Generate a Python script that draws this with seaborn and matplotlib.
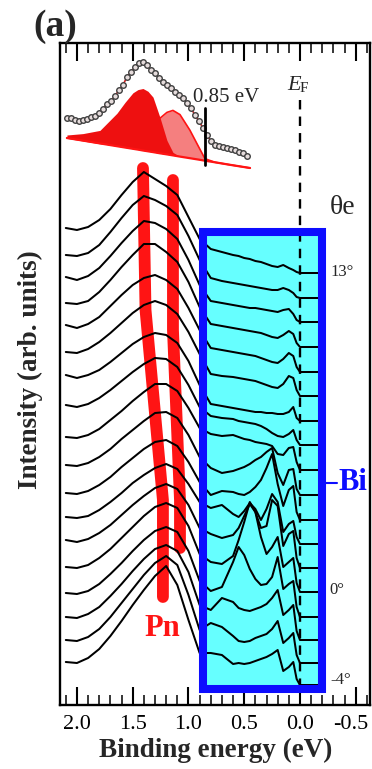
import numpy as np
import matplotlib
matplotlib.use("Agg")
import matplotlib.pyplot as plt
import matplotlib.transforms as mtransforms
from matplotlib.patches import Rectangle
from matplotlib.ticker import MultipleLocator
import seaborn as sns

sns.set_theme(style="ticks")
plt.rcParams['font.family'] = ['Liberation Serif', 'DejaVu Serif']
plt.rcParams['mathtext.fontset'] = 'stix'

# ---------------- data ----------------
energy_left = [2.1, 2.0, 1.9, 1.8, 1.7, 1.6, 1.5, 1.4, 1.3, 1.2, 1.1, 1.0, 0.9]
energy_bi = [0.8, 0.7, 0.6, 0.55, 0.5, 0.45, 0.4, 0.35, 0.3, 0.25, 0.2, 0.15,
             0.1, 0.06, 0.03, 0.0, -0.1, -0.2]
energy = energy_left + energy_bi

# vertical offsets of the 18 spectra (theta_e = 13 ... -4 deg)
offsets = [432, 407, 383, 358, 333, 309, 284, 260, 235, 210, 185, 161, 137, 113, 88, 65, 42, 20]

spec_left = [
    [45, 43, 46, 53, 64, 78, 91, 101, 94, 87, 78, 56, 34],
    [43, 42, 45, 53, 66, 80, 93, 102, 98, 92, 83, 62, 38],
    [45, 42, 46, 54, 66, 79, 91, 101, 99, 93, 83, 62, 37],
    [44, 43, 46, 55, 67, 80, 92, 103, 103, 95, 85, 65, 40],
    [47, 44, 48, 55, 66, 77, 87, 94, 97, 92, 83, 64, 42],
    [44, 43, 47, 54, 63, 73, 83, 91, 95, 91, 82, 64, 42],
    [46, 43, 46, 51, 59, 68, 77, 84, 88, 86, 78, 60, 36],
    [40, 38, 41, 47, 55, 64, 73, 81, 87, 86, 78, 60, 38],
    [33, 32, 35, 41, 50, 59, 69, 78, 86, 86, 79, 62, 42],
    [30, 29, 32, 38, 46, 56, 65, 74, 82, 83, 77, 60, 38],
    [27, 26, 29, 35, 43, 53, 62, 71, 78, 80, 74, 58, 38],
    [27, 26, 28, 34, 42, 51, 61, 69, 76, 80, 75, 60, 42],
    [28, 26, 29, 35, 43, 53, 63, 72, 80, 84, 79, 63, 40],
    [25, 24, 27, 34, 43, 54, 65, 76, 85, 89, 84, 66, 38],
    [24, 23, 26, 33, 43, 54, 66, 77, 86, 90, 85, 66, 36],
    [23, 22, 26, 33, 44, 56, 69, 81, 91, 95, 89, 68, 35],
    [23, 22, 26, 34, 46, 60, 74, 88, 100, 107, 98, 68, 33],
    [23, 22, 27, 36, 49, 64, 80, 95, 109, 119, 100, 65, 32],
]
spec_bi = [
    [24, 21, 18, 17, 15, 14, 12, 11, 9, 7, 6, 8, 5, 3, 1, 0, 0, 0],
    [20, 17, 15, 14, 13, 12, 11, 10, 9, 8, 8, 10, 8, 5, 1, 0, 0, 0],
    [21, 19, 17, 16, 15, 14, 14, 13, 12, 11, 10, 12, 13, 8, 2, 0, 0, 0],
    [23, 21, 19, 18, 17, 16, 15, 14, 12, 10, 9, 12, 16, 13, 4, 0, 0, 0],
    [24, 22, 20, 19, 18, 17, 16, 14, 12, 10, 9, 13, 19, 16, 5, 0, 0, 0],
    [22, 20, 19, 18, 17, 16, 15, 13, 11, 9, 8, 12, 20, 18, 6, 0, 0, 0],
    [17, 15, 13, 12, 11, 10, 9, 9, 8, 8, 7, 7, 9, 14, 3, 0, 0, 0],
    [29, 27, 26, 24, 23, 22, 21, 19, 16, 12, 9, 8, 11, 15, 5, 0, 0, 0],
    [36, 34, 35, 33, 31, 30, 28, 27, 26, 24, 16, 15, 22, 23, 8, 0, 0, 0],
    [27, 22, 24, 26, 28, 31, 35, 38, 43, 47, 22, 10, 25, 26, 6, 0, 0, 0],
    [25, 29, 28, 26, 25, 28, 33, 40, 52, 66, 36, 14, 30, 34, 8, 0, 0, 0],
    [36, 39, 30, 27, 33, 41, 35, 24, 35, 50, 42, 12, 20, 23, 7, 0, 0, 0],
    [34, 30, 33, 40, 52, 64, 56, 40, 42, 68, 62, 22, 34, 37, 10, 0, 0, 0],
    [30, 28, 36, 52, 70, 90, 80, 55, 38, 45, 55, 25, 30, 34, 9, 0, 0, 0],
    [26, 30, 55, 70, 62, 48, 38, 32, 33, 40, 60, 28, 33, 36, 10, 0, 0, 0],
    [30, 42, 38, 32, 30, 29, 31, 33, 36, 42, 50, 25, 30, 35, 9, 0, 0, 0],
    [40, 36, 27, 22, 21, 22, 25, 27, 29, 34, 42, 20, 25, 30, 8, 0, 0, 0],
    [32, 30, 21, 22, 21, 22, 24, 26, 28, 31, 35, 14, 18, 23, 6, 0, 0, 0],
]

# inset: data points of a fitted spectrum
inset_E = [2.090, 2.054, 2.018, 1.982, 1.946, 1.910, 1.874, 1.839, 1.803, 1.767,
           1.731, 1.695, 1.659, 1.623, 1.587, 1.552, 1.516, 1.480, 1.444, 1.408,
           1.372, 1.336, 1.300, 1.265, 1.229, 1.193, 1.157, 1.121, 1.085, 1.049,
           1.013, 0.978, 0.942, 0.906, 0.870, 0.834, 0.798, 0.762, 0.726, 0.691,
           0.655, 0.619, 0.583, 0.547, 0.511, 0.475]
inset_I = [587, 587, 585, 584, 585, 586, 588, 589, 592, 596,
           601, 604, 609, 615, 620, 628, 633, 638, 642, 643,
           640, 635, 632, 627, 623, 620, 617, 613, 610, 607,
           602, 597, 590, 584, 577, 570, 564, 560, 559, 558,
           557, 556, 555, 553, 552, 549]
comp_E = [2.090, 1.946, 1.794, 1.641, 1.570, 1.498, 1.453, 1.408, 1.363, 1.318,
          1.256, 1.193, 1.139, 1.076, 0.987, 0.915, 0.852, 0.762, 0.628, 0.448]
comp_bg = [567.0, 564.4, 561.6, 558.8, 557.5, 556.2, 555.4, 554.5, 553.7, 552.9,
           551.7, 550.6, 549.6, 548.4, 546.8, 545.5, 544.3, 542.7, 540.2, 537.0]
comp_dark = [3, 7, 13, 33, 45, 56, 60, 62, 60, 55, 36, 14, 3, 0, 0, 0, 0, 0, 0, 0]
comp_light = [0, 0, 0, 1, 3, 6, 9, 13, 18, 25, 35, 42, 45, 42, 28, 14, 2, 0, 0, 0]
gap_energy = 0.85

# guide bands (Pn)
band1_E = [1.408, 1.385, 1.229, 1.229]
band1_y = [537, 395, 205, 108]
band2_E = [1.139, 1.139, 1.076, 1.076]
band2_y = [525, 375, 205, 157]

angle_labels = ['13°', '0°', '-4°']
angle_pos = [(-0.38, 433), (-0.33, 115), (-0.37, 25)]

xticks = [2.0, 1.5, 1.0, 0.5, 0.0, -0.5]
xticklabels = ['2.0', '1.5', '1.0', '0.5', '0.0', '-0.5']

# ---------------- figure ----------------
W, H = 372, 769
fig = plt.figure(figsize=(W / 100, H / 100), dpi=100)
ax = fig.add_axes([60 / W, 1 - 705 / H, 310 / W, 662 / H])
ax.set_facecolor('white')
ax.set_xlim(2.152, -0.628)
ax.set_ylim(0, 662)

RED = '#ff1414'
BLUE = '#0d0dff'
CYAN = '#66ffff'

# Bi box
ax.add_patch(Rectangle((-0.2, 16), 1.07, 457, facecolor=CYAN, edgecolor='none', zorder=1))
ax.add_patch(Rectangle((-0.2, 16), 1.07, 457, facecolor='none', edgecolor=BLUE,
                       lw=5.8, zorder=4))

# E_F dashed line
ax.plot([0.0, 0.0], [605, 20], color='black', lw=1.7, ls=(0, (4, 3)), zorder=2.5)

# Pn bands
ax.plot(band1_E, band1_y, color=RED, lw=8.5, solid_capstyle='round',
        solid_joinstyle='round', zorder=2)
ax.plot(band2_E, band2_y, color=RED, lw=8.5, solid_capstyle='round',
        solid_joinstyle='round', zorder=2)

# spectra
for off, sl, sb in zip(offsets, spec_left, spec_bi):
    vals = np.array(sl + sb, dtype=float) + off
    sns.lineplot(x=energy, y=vals, ax=ax, color='black', lw=1.45, sort=False,
                 legend=False, zorder=3)

# inset fit
bg = np.array(comp_bg)
ax.fill_between(comp_E, bg, bg + np.array(comp_light), color='#f57f7f', lw=0, zorder=2)
ax.plot(comp_E, bg + np.array(comp_light), color=RED, lw=1.2, zorder=2.1)
ax.fill_between(comp_E, bg, bg + np.array(comp_dark), color='#ee1010', lw=0, zorder=2.2)
ax.plot(comp_E, bg, color=RED, lw=1.6, zorder=2.3)
ax.plot(inset_E, inset_I, color='#d02020', lw=1.2, zorder=2.4)
sns.scatterplot(x=inset_E, y=inset_I, ax=ax, marker='o', s=16, facecolor='#e6dcdc',
                edgecolor='#404040', linewidth=1.0, zorder=2.5, legend=False)
ax.plot([gap_energy, gap_energy], [597, 540], color='black', lw=2.0, zorder=2.6)
ax.text(0.66, 608, '0.85 eV', ha='center', va='center', fontsize=15, zorder=5)

# labels in the plot
ax.text(0.056, 620, 'E', ha='center', va='center', fontsize=16, style='italic')
ax.text(-0.038, 616, 'F', ha='center', va='center', fontsize=11)
ax.text(-0.38, 498, 'θe', ha='center', va='center', fontsize=20)
for lab, (ex, ey) in zip(angle_labels, angle_pos):
    ax.text(ex, ey, lab, ha='center', va='center', fontsize=12)
ax.plot([-0.2, -0.33], [222, 222], color=BLUE, lw=1.5, zorder=4)
ax.text(-0.47, 222, 'Bi', ha='center', va='center', fontsize=22, fontweight='bold',
        color=BLUE)
ax.text(1.238, 77, 'Pn', ha='center', va='center', fontsize=22, fontweight='bold',
        color=RED)

# axes styling
ax.set_xticks(xticks)
ax.set_xticklabels(xticklabels, fontsize=16)
ax.xaxis.set_minor_locator(MultipleLocator(0.1))
ax.set_yticks([])
ax.tick_params(axis='x', which='major', direction='in', top=True, bottom=True,
               length=13, width=1.5, pad=7, colors='black')
ax.tick_params(axis='x', which='minor', direction='in', top=True, bottom=True,
               length=7.5, width=1.3)
for sp in ax.spines.values():
    sp.set_visible(True)
    sp.set_color('black')
    sp.set_linewidth(1.7)
# keep the last tick label inside the picture
last = ax.get_xticklabels()[-1]
last.set_transform(last.get_transform() +
                   mtransforms.ScaledTranslation(-5 / 100, 0, fig.dpi_scale_trans))

fig.text(55 / W, 1 - 27 / H, '(a)', ha='center', va='center', fontsize=27,
         fontweight='bold')
fig.text(30 / W, 1 - 370 / H, 'Intensity (arb. units)', rotation=90, ha='center',
         va='center', fontsize=19.5, fontweight='bold')
fig.text(216 / W, 1 - 750 / H, 'Binding energy (eV)', ha='center', va='center',
         fontsize=19.5, fontweight='bold')

fig.savefig('out.png', dpi=100, facecolor='white')
